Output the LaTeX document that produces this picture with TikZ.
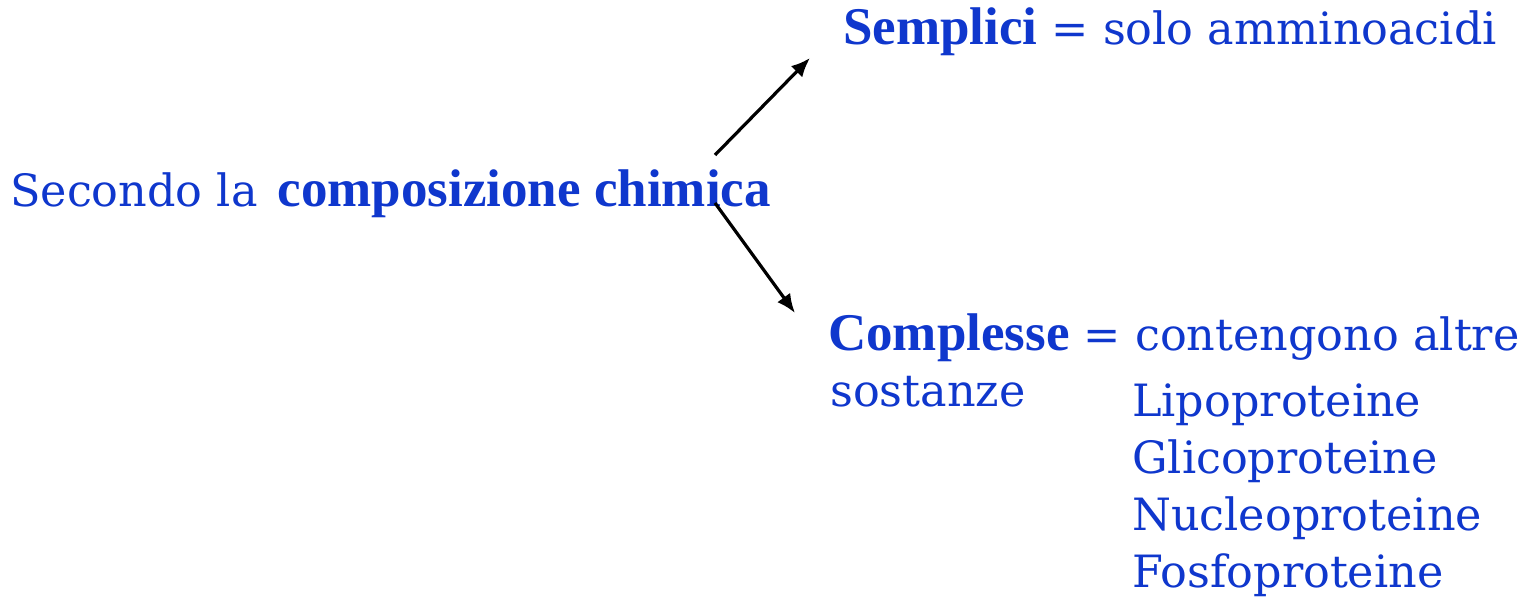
\documentclass[tikz,border=0pt]{standalone}
\usepackage{fontspec}
\setmainfont{DejaVu Serif}
\newfontfamily\boldserif{Liberation Serif}
\usetikzlibrary{arrows.meta,positioning}
\definecolor{protBlue}{RGB}{15,55,205}
\newcommand\keyterm[1]{{\boldserif\bfseries\fontsize{53}{60}\selectfont #1}}

\begin{document}
\begin{tikzpicture}[
  x=1pt,y=-1pt,
  txt/.style={
    anchor=base west,
    inner sep=0pt,
    text=protBlue,
    font=\fontsize{44.5}{53}\selectfont
  },
  arrow/.style={-{Latex[length=19pt,width=16pt]},line width=3.2pt}
]
  \useasboundingbox[fill=white] (0,0) rectangle (1527,597);
  \node[txt] (criterion) at (10,206) {Secondo la \hspace{6pt}\keyterm{composizione chimica}};
  \node[txt] (simple) at (843,45) {\keyterm{Semplici} = solo amminoacidi};
  \node[txt] (complex) at (828,350) {\keyterm{Complesse} = contengono altre};
  \node[txt] (complexcont) at (830,406) {sostanze};
  \foreach \kind [count=\i] in {Lipo,Glico,Nucleo,Fosfo}
    \node[txt] (kind\i) at (1132,358.7+57.3*\i) {\kind proteine};
  \coordinate (upstart) at ([shift={(705,-51)}]criterion.base west);
  \coordinate (downstart) at ([shift={(705,-3)}]criterion.base west);
  \coordinate (uptip) at ([shift={(-33,13)}]simple.base west);
  \coordinate (downtip) at ([shift={(-33,-37)}]complex.base west);
  \draw[arrow] (upstart) -- (uptip);
  \draw[arrow] (downstart) -- (downtip);
\end{tikzpicture}
\end{document}
